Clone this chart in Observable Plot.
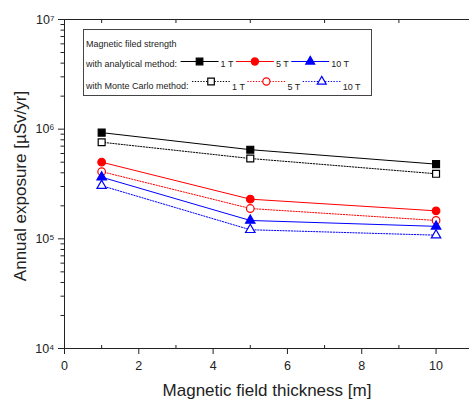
<!DOCTYPE html>
<html><head><meta charset="utf-8">
<script src="https://cdn.jsdelivr.net/npm/d3@7"></script>
<script src="https://cdn.jsdelivr.net/npm/@observablehq/plot@0.6"></script>
<style>
body{margin:0;background:#fff;font-family:"Liberation Sans",Arial,sans-serif;}
#wrap{position:relative;width:469px;height:401px;overflow:hidden;}
</style></head><body><div id="wrap"></div>
<script>
// ---- data ----
const thickness = [1, 5, 10];
const analytical1T  = [9.3e5, 6.5e5, 4.8e5];
const analytical5T  = [5.0e5, 2.3e5, 1.8e5];
const analytical10T = [3.65e5, 1.47e5, 1.3e5];
const monteCarlo1T  = [7.6e5, 5.4e5, 3.92e5];
const monteCarlo5T  = [4.1e5, 1.89e5, 1.47e5];
const monteCarlo10T = [3.05e5, 1.21e5, 1.08e5];
const fields = ["1 T", "5 T", "10 T"];
const methodNames = ["with analytical method:", "with Monte Carlo method:"];
const legendTitle = "Magnetic filed strength";
const xLabel = "Magnetic field thickness [m]";
const yLabel = "Annual exposure [\u00b5Sv/yr]";
const xMajorTicks = [0, 2, 4, 6, 8, 10];
const xMinorTicks = [1, 3, 5, 7, 9];
const yMajorTicks = [1e4, 1e5, 1e6, 1e7];
const yMinorTicks = [];
for (const d of [1e4, 1e5, 1e6]) for (let k = 2; k <= 9; k++) yMinorTicks.push(k * d);

// ---- styles ----
const colors = ["#000000", "#ff0000", "#0000ff"];
const symbols = ["square", "circle", "triangle"];
const radii = [3.9, 3.8, 3.5];

const methodValues = [
  [analytical1T, analytical5T, analytical10T],
  [monteCarlo1T, monteCarlo5T, monteCarlo10T]
];
const rows = [];
methodValues.forEach((vals, m) => fields.forEach((f, i) => vals[i].forEach((v, j) =>
  rows.push({method: m, field: i, x: thickness[j], y: v}))));

const sup = {"4": "\u2074", "5": "\u2075", "6": "\u2076", "7": "\u2077"};
const fmt = d => "10" + sup[String(Math.round(Math.log10(d)))];

const marks = [];
for (const m of [1, 0]) for (let i = 0; i < 3; i++) {
  const data = rows.filter(r => r.method === m && r.field === i);
  marks.push(Plot.line(data, {x: "x", y: "y", stroke: colors[i], strokeWidth: 1,
    strokeDasharray: m === 1 ? "1.3,1.5" : null}));
}
for (const m of [1, 0]) for (let i = 0; i < 3; i++) {
  const data = rows.filter(r => r.method === m && r.field === i);
  marks.push(Plot.dot(data, {x: "x", y: "y", symbol: symbols[i], r: radii[i],
    fill: m === 0 ? colors[i] : "white", stroke: colors[i], strokeWidth: 1.2}));
}

const chart = Plot.plot({
  width: 469, height: 401,
  marginLeft: 64, marginRight: 0, marginTop: 19, marginBottom: 53,
  style: {fontFamily: "'Liberation Sans', Arial, sans-serif", fontSize: "12.5px", color: "#222", background: "white"},
  x: {domain: [0, 10.9]},
  y: {type: "log", domain: [1e4, 1e7]},
  marks: [
    Plot.ruleX([0], {stroke: "#222", strokeWidth: 1}),
    Plot.ruleY([1e7], {stroke: "#222", strokeWidth: 1}),
    Plot.ruleY([1e4], {stroke: "#222", strokeWidth: 1}),
    Plot.axisX(xMajorTicks, {anchor: "bottom", tickSize: 6, tickPadding: 7, tickFormat: d => String(d), label: null}),
    Plot.axisX(xMinorTicks, {anchor: "bottom", tickSize: 3, dy: -3, tickFormat: () => "", label: null}),
    Plot.axisX(xMinorTicks, {anchor: "top", tickSize: 3, dy: 3, tickFormat: () => "", label: null}),
    Plot.axisY(yMajorTicks, {anchor: "left", tickSize: 6, tickPadding: 4, tickFormat: fmt, label: null}),
    Plot.axisY(yMinorTicks, {anchor: "left", tickSize: 3.5, tickFormat: () => "", label: null}),
    Plot.text([xLabel], {text: d => d, frameAnchor: "bottom", textAnchor: "middle", lineAnchor: "middle", dy: 42, fontSize: 17, fill: "#222"}),
    Plot.text([yLabel], {text: d => d, frameAnchor: "left", textAnchor: "middle", lineAnchor: "middle", rotate: -90, dx: -44, dy: 2, fontSize: 17, fill: "#222"}),
    ...marks
  ]
});
const wrap = document.getElementById("wrap");
wrap.appendChild(chart);

// ---- legend (inside plot area, top-left) ----
const leg = d3.select(wrap).append("svg")
  .attr("width", 290).attr("height", 68)
  .style("position", "absolute").style("left", "83px").style("top", "29px")
  .style("font-family", "'Liberation Sans', Arial, sans-serif").style("font-size", "9px");
leg.append("rect").attr("x", 0.5).attr("y", 0.5).attr("width", 288).attr("height", 66)
  .attr("fill", "white").attr("stroke", "#444").attr("stroke-width", 1);
leg.append("text").attr("x", 3).attr("y", 18).attr("fill", "#222").text(legendTitle);
const rowY = [{text: 38, line: 32.5, label: 37.5}, {text: 60, line: 52.5, label: 60.5}];
methodNames.forEach((name, m) => {
  const t = leg.append("text").attr("x", 3).attr("y", rowY[m].text).attr("fill", "#222").text(name);
  let cx = 3 + t.node().getComputedTextLength() + 3.5;
  fields.forEach((f, i) => {
    leg.append("line").attr("x1", cx).attr("x2", cx + 38).attr("y1", rowY[m].line).attr("y2", rowY[m].line)
      .attr("stroke", colors[i]).attr("stroke-width", 1)
      .attr("stroke-dasharray", m === 1 ? "1.3,1.5" : null);
    const symType = [d3.symbolSquare, d3.symbolCircle, d3.symbolTriangle][i];
    leg.append("path").attr("d", d3.symbol(symType, Math.PI * radii[i] * radii[i] * 0.9)())
      .attr("transform", `translate(${cx + 19},${rowY[m].line})`)
      .attr("fill", m === 0 ? colors[i] : "white").attr("stroke", colors[i]).attr("stroke-width", 1.2);
    const lt = leg.append("text").attr("x", cx + 40).attr("y", rowY[m].label).attr("fill", "#222").text(f);
    cx = cx + 40 + lt.node().getComputedTextLength() + 2.5;
  });
});
</script>
</body></html>
